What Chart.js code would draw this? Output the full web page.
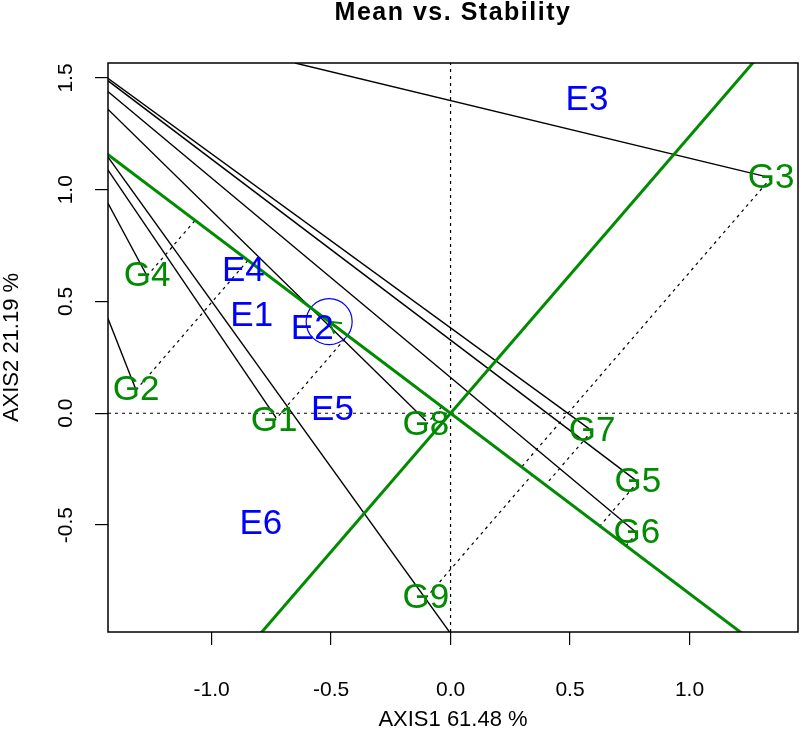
<!DOCTYPE html>
<html>
<head>
<meta charset="utf-8">
<title>Mean vs. Stability</title>
<script src="https://cdn.jsdelivr.net/npm/chart.js@4.4.0/dist/chart.umd.min.js"></script>
<style>
  html, body { margin: 0; padding: 0; background: #fff; overflow: hidden; }
  canvas { display: block; }
</style>
</head>
<body>
<canvas id="biplot" width="800" height="738"></canvas>
<script>
// axis ranges and ticks
var xRange = [-1.4335, 1.454];
var yRange = [-0.9785, 1.567];
var xTicks = [-1.0, -0.5, 0.0, 0.5, 1.0];
var yTicks = [-0.5, 0.0, 0.5, 1.0, 1.5];

// genotype scores
var genotypes = ['G1', 'G2', 'G3', 'G4', 'G5', 'G6', 'G7', 'G8', 'G9'];
var genoX = [-0.738, -1.316, 1.341, -1.270, 0.784, 0.780, 0.592, -0.103, -0.103];
var genoY = [-0.034, 0.104, 1.053, 0.614, -0.307, -0.536, -0.079, -0.052, -0.826];

// environment scores
var environments = ['E1', 'E2', 'E3', 'E4', 'E5', 'E6'];
var envX = [-0.832, -0.579, 0.571, -0.867, -0.494, -0.794];
var envY = [0.432, 0.377, 1.402, 0.634, 0.011, -0.496];

// average environment coordinate
var aecX = -0.508;
var aecY = 0.410;

// solid black lines, one per genotype (far end at the frame)
var spokeX = [-1.434, -1.434, -0.651, -1.434, -1.434, -1.434, -1.434, -1.434, -1.434];
var spokeY = [1.089, 0.425, 1.567, 0.940, 1.488, 1.439, 1.499, 1.360, 1.147];
var spokeEndX = [-0.730, -1.316, 1.341, -1.270, 0.784, 0.780, 0.592, -0.103, 0.000];
var spokeEndY = [-0.021, 0.104, 1.053, 0.614, -0.307, -0.536, -0.079, -0.034, -0.985];

var green = '#008B00';
var blue = '#0000FF';
var fam = '"Liberation Sans", Arial, Helvetica, sans-serif';

function seg(x1, y1, x2, y2, color, width, dash) {
  return {
    data: [{x: x1, y: y1}, {x: x2, y: y2}],
    showLine: true,
    borderColor: color,
    borderWidth: width,
    borderDash: dash || [],
    pointRadius: 0,
    fill: false
  };
}

var datasets = [];

// green lines first in the list so they sit on top
var k = 4;
datasets.push(seg(-k * aecX, -k * aecY, k * aecX, k * aecY, green, 3));
datasets.push(seg(-k * aecY, k * aecX, k * aecY, -k * aecX, green, 3));
datasets.push(seg(0, 0, aecX, aecY, green, 2));

// AEC circle
datasets.push({
  data: [{x: aecX, y: aecY}],
  showLine: false,
  pointRadius: 23,
  pointBorderColor: blue,
  pointBackgroundColor: 'rgba(0,0,0,0)',
  pointBorderWidth: 1.2
});

// projections of genotypes onto the AEA
var aa = aecX * aecX + aecY * aecY;
genotypes.forEach(function(g, i) {
  var t = (genoX[i] * aecX + genoY[i] * aecY) / aa;
  datasets.push(seg(genoX[i], genoY[i], t * aecX, t * aecY, '#000', 1.2, [3, 4]));
});

genotypes.forEach(function(g, i) {
  datasets.push(seg(spokeX[i], spokeY[i], spokeEndX[i], spokeEndY[i], '#000', 1.4));
});

// dotted zero lines
datasets.push(seg(xRange[0], 0, xRange[1], 0, '#000', 1.2, [3, 4]));
datasets.push(seg(0, yRange[0], 0, yRange[1], '#000', 1.2, [3, 4]));

var extras = {
  id: 'extras',
  afterDatasetsDraw: function(chart) {
    var ctx = chart.ctx;
    var a = chart.chartArea;
    var xs = chart.scales.x;
    var ys = chart.scales.y;

    ctx.save();
    ctx.beginPath();
    ctx.rect(a.left, a.top, a.right - a.left, a.bottom - a.top);
    ctx.clip();

    // arrow head at the AEC
    var tx = xs.getPixelForValue(aecX), ty = ys.getPixelForValue(aecY);
    var ox = xs.getPixelForValue(0), oy = ys.getPixelForValue(0);
    var ang = Math.atan2(oy - ty, ox - tx);
    ctx.strokeStyle = green;
    ctx.lineWidth = 2;
    [-Math.PI / 6, Math.PI / 6].forEach(function(d) {
      ctx.beginPath();
      ctx.moveTo(tx, ty);
      ctx.lineTo(tx + 13 * Math.cos(ang + d), ty + 13 * Math.sin(ang + d));
      ctx.stroke();
    });

    // point labels
    ctx.font = '35px ' + fam;
    ctx.textAlign = 'center';
    ctx.textBaseline = 'middle';
    ctx.fillStyle = blue;
    environments.forEach(function(e, i) {
      ctx.fillText(e, xs.getPixelForValue(envX[i]), ys.getPixelForValue(envY[i]));
    });
    ctx.fillStyle = green;
    genotypes.forEach(function(g, i) {
      ctx.fillText(g, xs.getPixelForValue(genoX[i]), ys.getPixelForValue(genoY[i]));
    });
    ctx.restore();

    ctx.save();
    // frame
    ctx.strokeStyle = '#000';
    ctx.lineWidth = 1.5;
    ctx.strokeRect(a.left, a.top, a.right - a.left, a.bottom - a.top);

    ctx.fillStyle = '#000';
    ctx.font = '21px ' + fam;
    ctx.textAlign = 'center';

    // x tick labels
    ctx.textBaseline = 'middle';
    xTicks.forEach(function(v) {
      ctx.fillText(v.toFixed(1), xs.getPixelForValue(v), 690);
    });

    // y tick labels, parallel to the axis
    ctx.textBaseline = 'alphabetic';
    yTicks.forEach(function(v) {
      ctx.save();
      ctx.translate(72, ys.getPixelForValue(v));
      ctx.rotate(-Math.PI / 2);
      ctx.fillText(v.toFixed(1), 0, 0);
      ctx.restore();
    });

    // axis titles
    ctx.font = '22px ' + fam;
    ctx.fillText('AXIS1 61.48 %', (a.left + a.right) / 2, 726);
    ctx.save();
    ctx.translate(18, (a.top + a.bottom) / 2);
    ctx.rotate(-Math.PI / 2);
    ctx.fillText('AXIS2 21.19 %', 0, 0);
    ctx.restore();

    // main title
    ctx.font = 'bold 25px ' + fam;
    ctx.letterSpacing = '1.5px';
    ctx.fillText('Mean vs. Stability', (a.left + a.right) / 2, 20);
    ctx.restore();
  }
};

var chart = new Chart(document.getElementById('biplot'), {
  type: 'scatter',
  data: { datasets: datasets },
  options: {
    responsive: false,
    animation: false,
    layout: { autoPadding: false, padding: { top: 63, right: 2, left: 0, bottom: 0 } },
    plugins: {
      legend: { display: false },
      tooltip: { enabled: false },
      title: { display: false }
    },
    scales: {
      x: {
        type: 'linear',
        min: xRange[0],
        max: xRange[1],
        afterBuildTicks: function(s) {
          s.ticks = xTicks.map(function(v) { return {value: v}; });
        },
        afterFit: function(s) { s.height = 106; },
        grid: { drawOnChartArea: false, drawTicks: true, tickLength: 13, color: '#000', lineWidth: 1.2 },
        border: { display: false },
        ticks: { display: false }
      },
      y: {
        type: 'linear',
        min: yRange[0],
        max: yRange[1],
        afterBuildTicks: function(s) {
          s.ticks = yTicks.map(function(v) { return {value: v}; });
        },
        afterFit: function(s) { s.width = 108; },
        grid: { drawOnChartArea: false, drawTicks: true, tickLength: 13, color: '#000', lineWidth: 1.2 },
        border: { display: false },
        ticks: { display: false }
      }
    }
  },
  plugins: [extras]
});
</script>
</body>
</html>
